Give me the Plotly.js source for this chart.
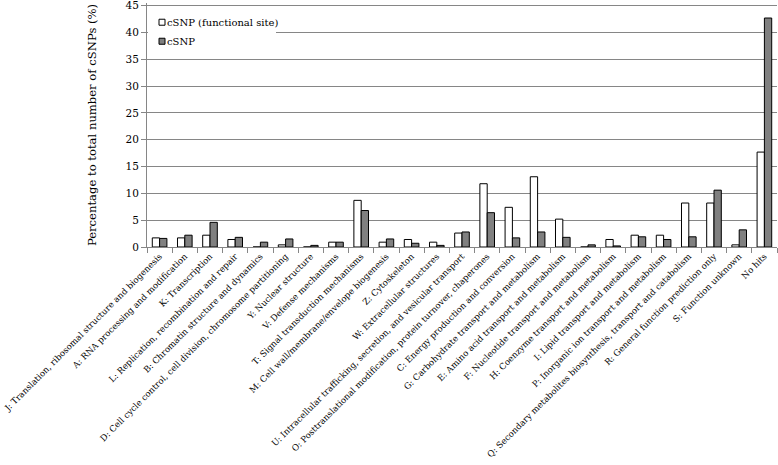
<!DOCTYPE html>
<html>
<head>
<meta charset="utf-8">
<script src="https://cdn.plot.ly/plotly-3.0.1.min.js"></script>
<style>html,body{margin:0;padding:0;background:#fff;}#chart{width:778px;height:465px;}</style>
</head>
<body>
<div id="chart"></div>
<script>
var categories = [
  "J: Translation, ribosomal structure and biogenesis",
  "A: RNA processing and modification",
  "K: Transcription",
  "L: Replication, recombination and repair",
  "B: Chromatin structure and dynamics",
  "D: Cell cycle control, cell division, chromosome partitioning",
  "Y: Nuclear structure",
  "V: Defense mechanisms",
  "T: Signal transduction mechanisms",
  "M: Cell wall/membrane/envelope biogenesis",
  "Z: Cytoskeleton",
  "W: Extracellular structures",
  "U: Intracellular trafficking, secretion, and vesicular transport",
  "O: Posttranslational modification, protein turnover, chaperones",
  "C: Energy production and conversion",
  "G: Carbohydrate transport and metabolism",
  "E: Amino acid transport and metabolism",
  "F: Nucleotide transport and metabolism",
  "H: Coenzyme transport and metabolism",
  "I: Lipid transport and metabolism",
  "P: Inorganic ion transport and metabolism",
  "Q: Secondary metabolites biosynthesis, transport and catabolism",
  "R: General function prediction only",
  "S: Function unknown",
  "No hits"
];
var seriesNames = ["cSNP (functional site)", "cSNP"];
var functionalSite = [1.7, 1.7, 2.2, 1.4, 0, 0.4, 0, 0.9, 8.7, 0.9, 1.4, 0.9, 2.6, 11.8, 7.4, 13.1, 5.2, 0, 1.4, 2.2, 2.2, 8.2, 8.2, 0.4, 17.7];
var allCsnp =        [1.6, 2.2, 4.6, 1.8, 0.9, 1.5, 0.3, 0.9, 6.8, 1.5, 0.7, 0.3, 2.8, 6.4, 1.7, 2.8, 1.8, 0.4, 0.2, 1.9, 1.4, 1.9, 10.6, 3.2, 42.7];
var yTicks = [0, 5, 10, 15, 20, 25, 30, 35, 40, 45];

var FONT = "DejaVu Serif, Liberation Serif, serif";
var W = 778, H = 465;
var M = {l: 147, r: 1, t: 3.3, b: 218};
function px(x) { return (x - M.l) / (W - M.l - M.r); }
function py(y) { return (H - M.b - y) / (H - M.t - M.b); }

var traces = [
  {type: "bar", name: seriesNames[0], x: categories, y: functionalSite,
   marker: {color: "#ffffff", line: {color: "#000000", width: 1}}, showlegend: false, hoverinfo: "x+y"},
  {type: "bar", name: seriesNames[1], x: categories, y: allCsnp,
   marker: {color: "#808080", line: {color: "#000000", width: 1}}, showlegend: false, hoverinfo: "x+y"}
];

var shapes = [
  {type: "rect", xref: "paper", yref: "paper", x0: px(148), x1: px(276), y0: py(12), y1: py(50),
   fillcolor: "#ffffff", line: {width: 0}, layer: "above"},
  {type: "rect", xref: "paper", yref: "paper", x0: px(159), x1: px(165), y0: py(19.5), y1: py(25.5),
   fillcolor: "#ffffff", line: {color: "#000000", width: 1}, layer: "above"},
  {type: "rect", xref: "paper", yref: "paper", x0: px(159), x1: px(165), y0: py(38.5), y1: py(44.5),
   fillcolor: "#808080", line: {color: "#000000", width: 1}, layer: "above"}
];
var annotations = [
  {xref: "paper", yref: "paper", x: px(165), y: py(22.5), xanchor: "left", yanchor: "middle",
   text: seriesNames[0], showarrow: false, font: {family: FONT, size: 10, color: "#000"}},
  {xref: "paper", yref: "paper", x: px(165), y: py(41.5), xanchor: "left", yanchor: "middle",
   text: seriesNames[1], showarrow: false, font: {family: FONT, size: 10, color: "#000"}}
];

var layout = {
  width: W, height: H,
  margin: M,
  paper_bgcolor: "#ffffff", plot_bgcolor: "#ffffff",
  font: {family: FONT, color: "#000"},
  barmode: "group", bargap: 0.42, bargroupgap: 0,
  showlegend: false,
  xaxis: {
    type: "category", tickangle: -45, automargin: false,
    tickfont: {family: FONT, size: 8.6, color: "#000"},
    showline: true, linecolor: "#868686", linewidth: 1,
    ticks: "outside", tickson: "boundaries", ticklen: 5, tickcolor: "#868686",
    showgrid: false, zeroline: false, fixedrange: true
  },
  yaxis: {
    range: [0, 45.5], tickvals: yTicks, ticktext: yTicks.map(String), automargin: false,
    ticklabeloverflow: "allow",
    tickfont: {family: FONT, size: 10.5, color: "#000"},
    showline: true, linecolor: "#868686", linewidth: 1,
    ticks: "outside", ticklen: 5, tickcolor: "#868686",
    showgrid: true, gridcolor: "#868686", gridwidth: 1, zeroline: false,
    title: {text: "Percentage to total number of cSNPs (%)", font: {family: FONT, size: 11.6, color: "#000"}, standoff: 26},
    fixedrange: true
  },
  shapes: shapes,
  annotations: annotations
};

Plotly.newPlot("chart", traces, layout, {displayModeBar: false, staticPlot: true});
</script>
</body>
</html>
